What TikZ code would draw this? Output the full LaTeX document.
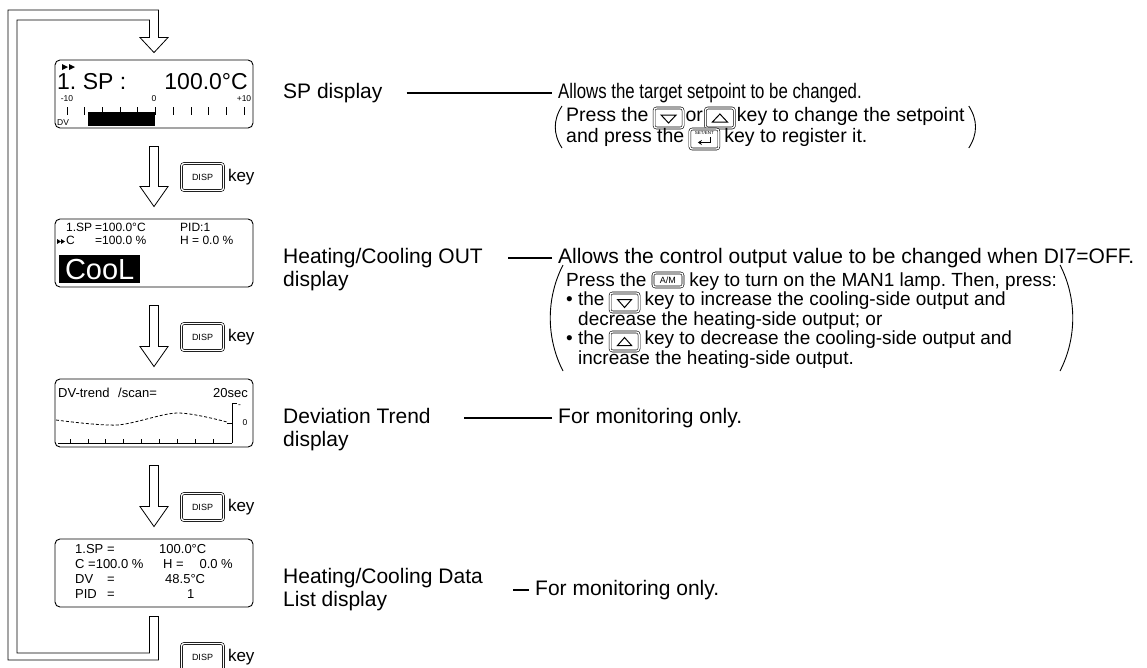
\documentclass[tikz,border=0pt]{standalone}
\usepackage{fontspec}
\setmainfont{Liberation Sans}
\usepackage{tikz}
\usetikzlibrary{positioning,calc,arrows.meta}

\tikzset{
  keycap/.style={draw, line width=0.6pt, double, double distance=1.4pt, rounded corners=2.5pt},
}

% hollow down arrow between two screens
\newcommand\hollowdown[2]{%
  \draw[hollow] let \p1=($(#1.south)+(0,18)$), \p2=($(#2.north)+(0,-12)$) in
    (\x1-4.5pt,\y1) -- (\x1+4.5pt,\y1) -- (\x1+4.5pt,\y2+20pt) -- (\x1+14pt,\y2+20pt)
    -- (\x1,\y2) -- (\x1-14pt,\y2+20pt) -- (\x1-4.5pt,\y2+20pt) -- cycle;}

\begin{document}
\frenchspacing
\begin{tikzpicture}[x=1pt, y=-1pt,
  lcd/.style={draw, line width=0.9pt, rounded corners=5pt, minimum width=198pt, minimum height=68pt, inner sep=0pt},
  hollow/.style={draw, line width=0.8pt, fill=white, line join=miter},
  dispkey/.style={keycap, minimum width=42pt, minimum height=27pt, inner sep=0pt, font=\fontsize{9}{9}\selectfont},
  inkey/.style={keycap, minimum width=29pt, minimum height=20pt, inner sep=0pt, anchor=west},
  inkeysm/.style={keycap, minimum width=29pt, minimum height=19pt, inner sep=0pt, anchor=west},
  amkey/.style={keycap, minimum width=30pt, minimum height=14pt, inner sep=0pt, anchor=west, font=\fontsize{9}{9}\selectfont},
  keyword/.style={font=\fontsize{17}{17}\selectfont, inner sep=0pt},
  dlabel/.style={font=\fontsize{21}{23}\selectfont, align=left, inner sep=0pt, anchor=west},
  desc/.style={font=\fontsize{21}{23}\selectfont, inner sep=0pt, anchor=west},
  note/.style={font=\fontsize{19.5}{19.5}\selectfont, inner sep=0pt, anchor=base west},
  smallnote/.style={font=\fontsize{19}{19}\selectfont, inner sep=0pt, anchor=base west},
  lead/.style={line width=1.3pt},
  paren/.style={line width=0.9pt},
  tri/.style={line width=1pt, line join=miter},
  lcdtxt/.style={font=\fontsize{13}{13}\selectfont, inner sep=0pt, anchor=base west},
  scalenum/.style={font=\fontsize{8.5}{8.5}\selectfont, inner sep=0pt}
]
\useasboundingbox (0,0) rectangle (1147,667);

% Screens
\node[lcd] (spdisp) at (154,94) {};
\node[lcd] (outdisp) at (154,253) {};
\node[lcd] (trenddisp) at (154,413) {};
\node[lcd] (listdisp) at (154,573) {};

% SP screen
\fill (62,64) -- (68,67) -- (62,70) -- cycle;
\fill (69,64) -- (75,67) -- (69,70) -- cycle;
\node[anchor=base west, inner sep=0pt, font=\fontsize{23}{23}\selectfont] (spno) at (57,89) {1. SP :};
\node[anchor=base east, inner sep=0pt, font=\fontsize{23}{23}\selectfont] (spval) at (248,89) {100.0°C};
\node[scalenum] (spmin) at (67,99) {-10};
\node[scalenum] (spzero) at (154,99) {0};
\node[scalenum] (spmax) at (244,99) {+10};
\foreach \i in {0,...,10}
  \draw[line width=0.8pt] (67+17.7*\i,107) -- ++(0,8);
\fill (88,112) rectangle (155,126);
\node[scalenum, anchor=west] (spdv) at (57,123) {DV};

% OUT screen
\node[lcdtxt, font=\fontsize{12}{12}\selectfont] (outa) at (66,231) {1.SP};
\node[lcdtxt, font=\fontsize{12}{12}\selectfont] (outb) at (95,231) {=100.0°C};
\node[lcdtxt, font=\fontsize{12}{12}\selectfont] (outc) at (180,231) {PID:1};
\fill (57,239) -- (61,241.5) -- (57,244) -- cycle;
\fill (61,239) -- (65,241.5) -- (61,244) -- cycle;
\node[lcdtxt, font=\fontsize{12}{12}\selectfont] (outd) at (66,244) {C};
\node[lcdtxt, font=\fontsize{12}{12}\selectfont] (oute) at (95,244) {=100.0 \%};
\node[lcdtxt, font=\fontsize{12}{12}\selectfont] (outf) at (180,244) {H = 0.0 \%};
\node[fill=black, text=white, inner sep=0pt, minimum width=81pt, minimum height=28pt,
  anchor=north west, font=\fontsize{29}{29}\selectfont] (cool) at (59,255) {CooL};

% trend screen
\node[lcdtxt] (trda) at (58,397) {DV-trend};
\node[lcdtxt] (trdb) at (118,397) {/scan=};
\node[lcdtxt, anchor=base east] (trdc) at (248,397) {20sec};
\draw[line width=0.8pt] (237,403) -- (232,403) -- (232,443);
\draw[line width=0.8pt] (227,423) -- (232,423);
\node[scalenum, anchor=west] (trdtop) at (238,406) {-};
\node[scalenum] (trdzero) at (245,423) {0};
\draw[dash pattern=on 3pt off 2pt, line width=0.8pt] plot[smooth] coordinates {(56,420) (117,425) (177,413) (227,422)};
\draw[line width=0.8pt] (58,443) -- (232,443);
\foreach \i in {0,...,8}
  \draw[line width=0.8pt] (70+17.9*\i,443) -- ++(0,-4);

% list screen
\node[lcdtxt] (lsta) at (75,553) {1.SP};
\node[lcdtxt] (lstb) at (107,553) {=};
\node[lcdtxt] (lstc) at (159,553) {100.0°C};
\node[lcdtxt] (lstd) at (75,568) {C};
\node[lcdtxt] (lste) at (88,568) {=100.0 \%};
\node[lcdtxt] (lstf) at (163,568) {H =};
\node[lcdtxt, anchor=base east] (lstg) at (233,568) {0.0 \%};
\node[lcdtxt] (lsth) at (75,583) {DV};
\node[lcdtxt] (lsti) at (107,583) {=};
\node[lcdtxt] (lstj) at (165,583) {48.5°C};
\node[lcdtxt] (lstk) at (75,598) {PID};
\node[lcdtxt] (lstl) at (107,598) {=};
\node[lcdtxt] (lstm) at (187,598) {1};

% Arrows
\hollowdown{spdisp}{outdisp}
\hollowdown{outdisp}{trenddisp}
\hollowdown{trenddisp}{listdisp}
\draw[hollow] let \p1=($(listdisp.south)+(0,9)$), \p2=($(spdisp.north)+(0,-7)$),
    \p3=(8,660), \p4=(17,653), \p5=(8,10), \p6=(17,20) in
    (\x1-4.5pt,\y1) -- (\x1+4.5pt,\y1) -- (\x1+4.5pt,\y3) -- (\x3,\y3) -- (\x5,\y5)
    -- (\x1+4.5pt,\y5) -- (\x1+4.5pt,\y2+15pt) -- (\x1+14pt,\y2+15pt) -- (\x1,\y2)
    -- (\x1-14pt,\y2+15pt) -- (\x1-4.5pt,\y2+15pt) -- (\x1-4.5pt,\y6) -- (\x6,\y6)
    -- (\x4,\y4) -- (\x1-4.5pt,\y4) -- cycle;

% DISP keys
\node[dispkey] (key1) at (202.5,177) {DISP};
\node[keyword, right=4pt of key1] (key1t) {key};
\node[dispkey] (key2) at (202.5,337) {DISP};
\node[keyword, right=4pt of key2] (key2t) {key};
\node[dispkey] (key3) at (202.5,507) {DISP};
\node[keyword, right=4pt of key3] (key3t) {key};
\node[dispkey] (key4) at (202.5,657) {DISP};
\node[keyword, right=4pt of key4] (key4t) {key};

% Labels
\node[dlabel] (splabel) at (283,93) {SP display};
\node[dlabel] (outlabel) at (283,269.5) {Heating/Cooling OUT\\display};
\node[dlabel] (trendlabel) at (283,429.5) {Deviation Trend\\display};
\node[dlabel] (listlabel) at (283,589.5) {Heating/Cooling Data\\List display};

% SP description
\node[desc] (spdesc) at (558,93) {\scalebox{0.8}[1]{Allows the target setpoint to be changed.}};
\node[note] (spn1a) at (566,121) {Press the};
\node[inkey] (dnk1) at ([xshift=5pt,yshift=3pt]spn1a.base east) {};
\draw[tri] ([xshift=-7.5pt,yshift=3pt]dnk1.center) -- ++(15,0) -- ++(-7.5,8) -- cycle;
\node[note] (spn1b) at ([xshift=2pt]dnk1.east |- spn1a.base) {or};
\node[inkey] (upk1) at ([xshift=2pt,yshift=3pt]spn1b.base east) {};
\draw[tri] ([xshift=-7.5pt,yshift=-4pt]upk1.center) -- ++(15,0) -- ++(-7.5,-8) -- cycle;
\node[note] (spn1c) at ([xshift=2pt]upk1.east |- spn1a.base) {key to change the setpoint};
\node[note] (spn2a) at (566,142) {and press the};
\node[inkey] (entk) at ([xshift=5pt,yshift=3pt]spn2a.base east) {};
\node[inner sep=0pt, font=\fontsize{4.5}{4.5}\selectfont] (entkt) at ([yshift=6pt]entk.center) {SET/ENT};
\draw[line width=0.9pt, -{Stealth[length=4pt,width=5pt]}] ([xshift=6.5pt,yshift=2pt]entk.center) -- ++(0,5.5) -- ++(-13,0);
\node[note] (spn2b) at ([xshift=5pt]entk.east |- spn2a.base) {key to register it.};
\draw[paren] (562,106) .. controls (553,120) and (553,134) .. (562,148);
\draw[paren] let \p1=(spn1c.east), \p2=(0,106), \p3=(0,148) in
  (\x1+4pt,\y2) .. controls (\x1+13pt,\y2-14pt) and (\x1+13pt,\y3+14pt) .. (\x1+4pt,\y3);

% OUT description
\node[desc] (outdesc) at (558,258) {Allows the control output value to be changed when DI7=OFF.};
\node[smallnote] (on1a) at (566,286) {Press the};
\node[amkey] (amk) at ([xshift=6pt,yshift=6pt]on1a.base east) {A/M};
\node[smallnote] (on1b) at ([xshift=6pt]amk.east |- on1a.base) {key to turn on the MAN1 lamp. Then, press:};
\node[smallnote] (on2a) at (566,305.5) {• the};
\node[inkeysm] (dnk2) at ([xshift=5pt,yshift=3pt]on2a.base east) {};
\draw[tri] ([xshift=-7pt,yshift=3pt]dnk2.center) -- ++(14,0) -- ++(-7,8) -- cycle;
\node[smallnote] (on2b) at ([xshift=5pt]dnk2.east |- on2a.base) {key to increase the cooling-side output and};
\node[smallnote] (on3) at (578,325) {decrease the heating-side output; or};
\node[smallnote] (on4a) at (566,344.5) {• the};
\node[inkeysm] (upk2) at ([xshift=5pt,yshift=3pt]on4a.base east) {};
\draw[tri] ([xshift=-7pt,yshift=-4pt]upk2.center) -- ++(14,0) -- ++(-7,-8) -- cycle;
\node[smallnote] (on4b) at ([xshift=5pt]upk2.east |- on4a.base) {key to decrease the cooling-side output and};
\node[smallnote] (on5) at (578,364) {increase the heating-side output.};
\draw[paren] (563,265) .. controls (546,298) and (546,338) .. (563,371);
\draw[paren] (1060,265) .. controls (1077,298) and (1077,338) .. (1060,371);

% monitoring only
\node[desc] (trenddesc) at (558,418) {For monitoring only.};
\node[desc] (listdesc) at (535,590) {For monitoring only.};

% Leaders
\draw[lead] ([xshift=24pt]splabel.east) -- ([xshift=-6pt]spdesc.west);
\draw[lead] ([xshift=-6pt]outdesc.west) -- ++(-44,0);
\draw[lead] ([xshift=-6pt]trenddesc.west) -- ++(-88,0);
\draw[lead] ([xshift=-6pt]listdesc.west) -- ++(-16,0);

\end{tikzpicture}
\end{document}
